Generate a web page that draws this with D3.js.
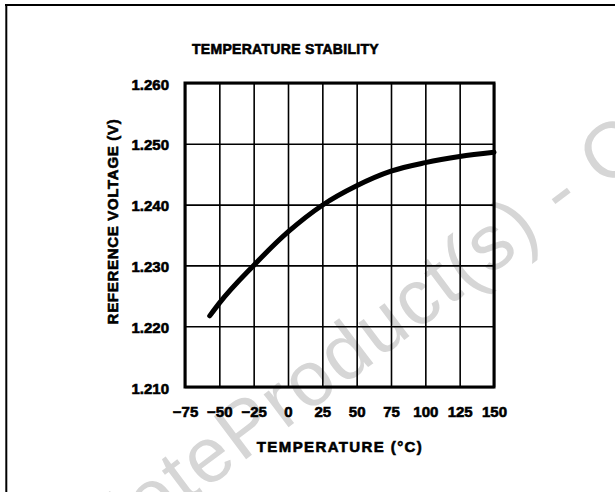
<!DOCTYPE html>
<html>
<head>
<meta charset="utf-8">
<script src="https://cdn.jsdelivr.net/npm/d3@7"></script>
<style>
  body { margin: 0; background: #fff; }
  text { font-family: "Liberation Sans", Arial, sans-serif; font-weight: bold; fill: #000; }
  .lbl { stroke: #000; stroke-width: 0.6; }
  .watermark { font-weight: normal; fill: #d6d6d6; font-size: 78px; letter-spacing: 2px; }
</style>
</head>
<body>
<div id="container"></div>
<script>
// values
let temps = [-57, -50, -25, 0, 25, 50, 75, 100, 125, 150];
let volts = [1.2217, 1.2238, 1.2300, 1.2355, 1.2399, 1.2431, 1.2455, 1.2469, 1.2479, 1.2486];
let xTicks = [-75, -50, -25, 0, 25, 50, 75, 100, 125, 150];
let yTicks = [1.210, 1.220, 1.230, 1.240, 1.250, 1.260];

let width = 615;
let height = 492;
let plotLeft = 185, plotRight = 494, plotTop = 83, plotBottom = 387;

let svg = d3.select('#container').append('svg')
    .attr('width', width).attr('height', height);

// watermark behind everything
let wm = svg.append('g').attr('transform', 'translate(241,463) rotate(-37)');
wm.append('text').attr('class', 'watermark').attr('text-anchor', 'end').text('Obsolete ');
wm.append('text').attr('class', 'watermark').attr('text-anchor', 'start').text('Product(s) - Obsolete Product(s)');

// page frame (top and left edges only)
svg.append('line').attr('x1', 5).attr('x2', width).attr('y1', 5).attr('y2', 5)
    .attr('stroke', '#000').attr('stroke-width', 2);
svg.append('line').attr('x1', 6.3).attr('x2', 6.3).attr('y1', 4).attr('y2', height)
    .attr('stroke', '#000').attr('stroke-width', 2);

let xScale = d3.scaleLinear().domain([-75, 150]).range([plotLeft, plotRight]);
let yScale = d3.scaleLinear().domain([1.210, 1.260]).range([plotBottom, plotTop]);

let fmtX = d => d < 0 ? '\u2212' + Math.abs(d) : '' + d;

let xAxis = svg.append('g').attr('transform', 'translate(0,' + plotBottom + ')')
    .call(d3.axisBottom(xScale).tickValues(xTicks).tickFormat(fmtX)
        .tickSizeInner(-(plotBottom - plotTop)).tickSizeOuter(0).tickPadding(18));
xAxis.select('.domain').remove();
xAxis.selectAll('.tick line').attr('stroke', '#000').attr('stroke-width', 1.6);
xAxis.selectAll('.tick text').attr('class', 'lbl').attr('font-size', 15).attr('dy', 0).attr('y', 30);

let yAxis = svg.append('g').attr('transform', 'translate(' + plotLeft + ',0)')
    .call(d3.axisLeft(yScale).tickValues(yTicks).tickFormat(d3.format('.3f'))
        .tickSizeInner(-(plotRight - plotLeft)).tickSizeOuter(0).tickPadding(16));
yAxis.select('.domain').remove();
yAxis.selectAll('.tick line').attr('stroke', '#000').attr('stroke-width', 1.6);
yAxis.selectAll('.tick text').attr('class', 'lbl').attr('font-size', 15).attr('dy', '0.4em');

// plot border
svg.append('rect').attr('x', plotLeft).attr('y', plotTop)
    .attr('width', plotRight - plotLeft).attr('height', plotBottom - plotTop)
    .attr('fill', 'none').attr('stroke', '#000').attr('stroke-width', 3);

let line = d3.line()
    .x((d, i) => xScale(temps[i]))
    .y(d => yScale(d))
    .curve(d3.curveMonotoneX);

svg.append('path').datum(volts)
    .attr('fill', 'none').attr('stroke', '#000')
    .attr('stroke-width', 5).attr('stroke-linecap', 'round')
    .attr('d', line);

svg.append('text').attr('class', 'lbl').attr('x', 285.5).attr('y', 53.5).attr('text-anchor', 'middle')
    .attr('font-size', 14).attr('letter-spacing', 0.3).text('TEMPERATURE STABILITY');

svg.append('text').attr('class', 'lbl').attr('x', 340).attr('y', 452).attr('text-anchor', 'middle')
    .attr('font-size', 15).attr('letter-spacing', 1.4).text('TEMPERATURE (\u00B0C)');

svg.append('text').attr('class', 'lbl').attr('transform', 'translate(118,221.5) rotate(-90)')
    .attr('text-anchor', 'middle').attr('font-size', 15).attr('letter-spacing', 0.7)
    .text('REFERENCE VOLTAGE (V)');
</script>
</body>
</html>
